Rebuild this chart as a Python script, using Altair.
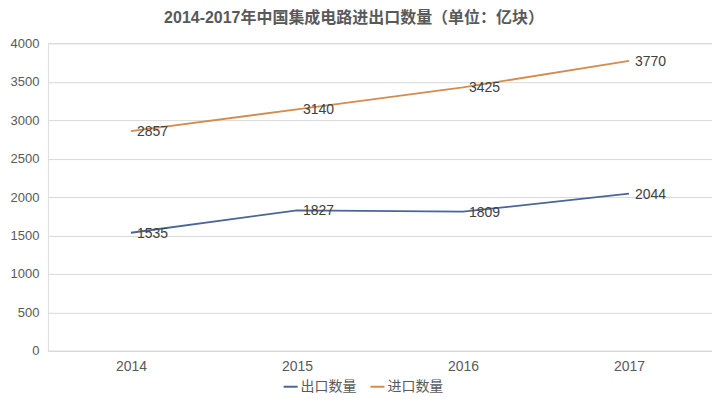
import altair as alt
import pandas as pd

years = ["2014", "2015", "2016", "2017"]
export_vals = [1535, 1827, 1809, 2044]
import_vals = [2857, 3140, 3425, 3770]
series_names = ["出口数量", "进口数量"]
colors = ["#4a6699", "#d38c4e"]

rows = []
for y, e, i in zip(years, export_vals, import_vals):
    rows.append({"year": y, "series": series_names[0], "value": e})
    rows.append({"year": y, "series": series_names[1], "value": i})
df = pd.DataFrame(rows)

FONT = "Liberation Sans, Noto Sans CJK SC"
CJK = "Noto Sans CJK SC"

x = alt.X("year:N", title=None,
          scale=alt.Scale(type="point", padding=0.5),
          axis=alt.Axis(labelAngle=0, ticks=False, domainColor="#d9d9d9",
                        labelColor="#595959", labelFontSize=14, labelPadding=9,
                        labelFont=FONT, grid=False))
y = alt.Y("value:Q", title=None,
          scale=alt.Scale(domain=[0, 4000]),
          axis=alt.Axis(values=list(range(0, 4001, 500)), ticks=False, domain=False,
                        format="d",
                        gridColor="#d9d9d9", labelColor="#595959", labelFontSize=13,
                        labelPadding=9, labelFont=FONT))
color = alt.Color("series:N", sort=series_names,
                  scale=alt.Scale(domain=series_names, range=colors),
                  legend=alt.Legend(title=None, orient="none", direction="horizontal",
                                    legendX=235, legendY=336, symbolType="stroke",
                                    symbolSize=196, symbolStrokeWidth=2,
                                    labelFontSize=14, labelColor="#595959",
                                    labelFont=CJK, columnPadding=10,
                                    symbolOffset=0, labelOffset=2))

base = alt.Chart(df)
lines = base.mark_line(strokeWidth=1.8).encode(x=x, y=y, color=color)
labels = base.mark_text(align="left", baseline="middle", dx=6, dy=1,
                        fontSize=14, color="#404040", font=FONT).encode(
    x=x, y=y, text="value:Q")

chart = (lines + labels).properties(
    width=665, height=308,
    autosize=alt.AutoSizeParams(type="none"),
    padding={"left": 40, "top": 35, "right": 0, "bottom": 50},
    title=alt.Title("2014-2017年中国集成电路进出口数量（单位：亿块）",
                    fontSize=16, fontWeight="bold", color="#595959", font=FONT,
                    anchor="middle", dx=-26, offset=11),
).configure_view(stroke=None).configure(background="white")

chart.save("out.html", embed_options={"renderer": "svg", "actions": False})
